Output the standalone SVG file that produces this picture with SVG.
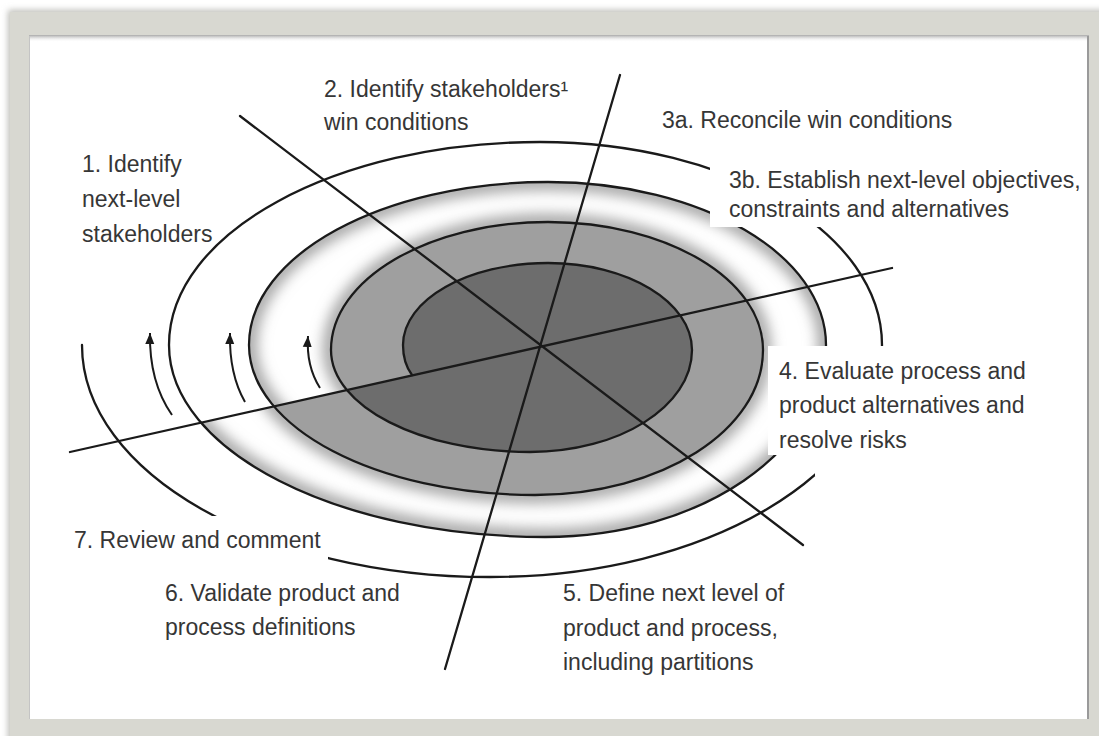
<svg xmlns="http://www.w3.org/2000/svg" width="1099" height="736" viewBox="0 0 1099 736">
<defs>
<style>
.t{font-family:"Liberation Sans",Arial,sans-serif;font-size:23px;fill:#363636}
.ln{fill:none;stroke:#1a1a1a;stroke-width:2.3;stroke-linecap:round}
.arr{fill:none;stroke:#1a1a1a;stroke-width:2;marker-end:url(#ah)}
.dark{fill:#6d6d6d}
.mid{fill:#9f9f9f}
.bgw{fill:#fff}
</style>
<clipPath id="above"><polygon points="0,0 1099,0 1099,221.7 0,467.7"/></clipPath>
<clipPath id="below"><polygon points="0,467.7 1099,221.7 1099,736 0,736"/></clipPath>
<filter id="blur" x="-10%" y="-10%" width="120%" height="120%"><feGaussianBlur stdDeviation="7"/></filter>
<filter id="fb" x="-5%" y="-5%" width="110%" height="110%"><feGaussianBlur stdDeviation="3"/></filter>
<marker id="ah" markerUnits="userSpaceOnUse" markerWidth="12" markerHeight="10" refX="11" refY="5" orient="auto"><path d="M0,0.5 L11,5 L0,9.5 Z" fill="#1a1a1a"/></marker>
<linearGradient id="topsh" x1="0" y1="0" x2="0" y2="1"><stop offset="0" stop-color="#a8a8a8"/><stop offset="1" stop-color="#fff" stop-opacity="0"/></linearGradient>
<path id="spiral" d="M412,375 C406,367 403,357 403,345 C403,299.7 467.9,263 548,263 C627.5,263 692,301.9 692,350 C692,406.3 619.5,452 530,452 C420.1,452 331,406.3 331,350 C331,279.3 428.2,222 548,222 C666.7,222 763,279.3 763,350 C763,430.1 660.9,495 535,495 C377,495 249,427.8 249,345 C249,255 382.9,182 548,182 C701.5,182 826,255 826,345 C826,451 700.2,537 545,537 C337.3,537 169,451 169,345 C169,232.9 335.1,142 540,142 C728.9,142 882,232.9 882,345 C882,473.1 706.5,577 490,577 C264.7,577 82,473.1 82,345"/>
<mask id="lightm">
<g clip-path="url(#above)"><path fill="#fff" d="M535,495 C377,495 249,427.8 249,345 C249,255 382.9,182 548,182 C701.5,182 826,255 826,345 C826,451 700.2,537 545,537 Z"/></g>
<g clip-path="url(#below)"><path fill="#fff" d="M548,182 C701.5,182 826,255 826,345 C826,451 700.2,537 545,537 C337.3,537 169,451 169,345 Z"/></g>
</mask>
</defs>

<!-- frame -->
<rect width="1099" height="736" fill="#fff"/>
<rect x="8" y="10" width="1110" height="750" fill="#bdbdb8" filter="url(#fb)"/>
<rect x="10" y="12" width="1100" height="740" fill="#d8d8d1"/>
<rect x="29" y="35" width="1060" height="684" fill="#fff"/>
<rect x="29" y="35" width="1060" height="7" fill="url(#topsh)"/>
<line x1="1088" y1="36" x2="1088" y2="719" stroke="#9a9a9a" stroke-width="2"/>
<line x1="29.5" y1="36" x2="29.5" y2="719" stroke="#c4c4c4" stroke-width="1"/>

<!-- spiral fills -->
<g id="spiral-fills">
  <g id="light-ring" mask="url(#lightm)">
    <rect x="150" y="150" width="760" height="420" fill="#fff"/>
    <use href="#spiral" fill="none" stroke="#a2a2a2" stroke-width="16" filter="url(#blur)"/>
  </g>
  <g id="mid-ring">
    <path class="mid" clip-path="url(#above)" d="M530,452 C420.1,452 331,406.3 331,350 C331,279.3 428.2,222 548,222 C666.7,222 763,279.3 763,350 C763,430.1 660.9,495 535,495 Z"/>
    <path class="mid" clip-path="url(#below)" d="M548,222 C666.7,222 763,279.3 763,350 C763,430.1 660.9,495 535,495 C377,495 249,427.8 249,345 Z"/>
  </g>
  <g id="core">
    <path class="dark" clip-path="url(#above)" d="M412,375 C406,367 403,357 403,345 C403,299.7 467.9,263 548,263 C627.5,263 692,301.9 692,350 C692,406.3 619.5,452 530,452 Z"/>
    <path class="dark" clip-path="url(#below)" d="M548,263 C627.5,263 692,301.9 692,350 C692,406.3 619.5,452 530,452 C420.1,452 331,406.3 331,350 Z"/>
  </g>
</g>

<!-- connectors -->
<g id="connectors">
  <use href="#spiral" class="ln"/>
  <!-- label backgrounds that interrupt the spiral -->
  <rect class="bgw" x="710" y="158" width="365" height="69"/>
  <polygon class="bgw" points="768,346 1075,346 1075,476 815,476 815,455 768,455"/>
  <rect class="bgw" x="60" y="516" width="268" height="44"/>
  <line class="ln" x1="620" y1="75" x2="445" y2="669"/>
  <line class="ln" x1="240" y1="116" x2="803" y2="545"/>
  <line class="ln" x1="70" y1="452" x2="892" y2="268"/>
  <path class="arr" d="M172,415 Q149,382 150,333"/>
  <path class="arr" d="M245,402 Q229,374 230,333"/>
  <path class="arr" d="M320,388 Q306,366 308,336"/>
</g>

<!-- labels -->
<g id="step1"><text class="t" x="82" y="172">1. Identify</text><text class="t" x="82" y="207">next-level</text><text class="t" x="82" y="242">stakeholders</text></g>
<g id="step2"><text class="t" x="324" y="97">2. Identify stakeholders¹</text><text class="t" x="324" y="130">win conditions</text></g>
<g id="step3a"><text class="t" x="662" y="128">3a. Reconcile win conditions</text></g>
<g id="step3b"><text class="t" x="729" y="188">3b. Establish next-level objectives,</text><text class="t" x="729" y="217">constraints and alternatives</text></g>
<g id="step4"><text class="t" x="779" y="379">4. Evaluate process and</text><text class="t" x="779" y="413">product alternatives and</text><text class="t" x="779" y="448">resolve risks</text></g>
<g id="step5"><text class="t" x="563" y="601">5. Define next level of</text><text class="t" x="563" y="636">product and process,</text><text class="t" x="563" y="670">including partitions</text></g>
<g id="step6"><text class="t" x="165" y="601">6. Validate product and</text><text class="t" x="165" y="635">process definitions</text></g>
<g id="step7"><text class="t" x="74" y="548">7. Review and comment</text></g>
</svg>
